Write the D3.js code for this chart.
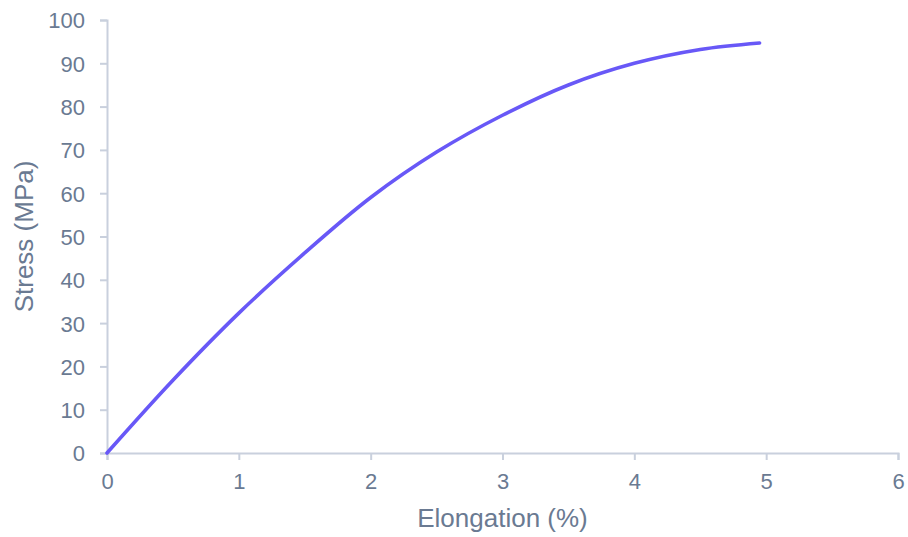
<!DOCTYPE html>
<html><head><meta charset="utf-8">
<script src="https://cdn.jsdelivr.net/npm/d3@7"></script>
<style>body{margin:0;background:#fff;font-family:"Liberation Sans",Arial,sans-serif;}</style>
</head><body>
<svg id="c" width="908" height="537"></svg>
<script>
const elongation = [0,0.5,1,1.5,2,2.5,3,3.5,4,4.5,4.95];
const stress     = [0,16.8,32.3,46.2,59.0,69.5,78.0,85.0,90.0,93.2,94.7];
const xTicks = [0,1,2,3,4,5,6];
const yTicks = [0,10,20,30,40,50,60,70,80,90,100];

const svg = d3.select("#c");
const m = {l:107, r:10, t:20, b:84};
const W = 908, H = 537;
const x = d3.scaleLinear().domain([0,6]).range([m.l, W-m.r]);
const y = d3.scaleLinear().domain([0,100]).range([H-m.b, m.t]);
const axisCol = "#c9d0dd", textCol = "#6a7a92";
const ff = "'Liberation Sans',Arial,sans-serif";

const gx = svg.append("g").attr("transform",`translate(0,${y(0)})`)
  .call(d3.axisBottom(x).tickValues(xTicks).tickFormat(d3.format("d")).tickSizeOuter(0).tickSize(7).tickPadding(13));
const gy = svg.append("g").attr("transform",`translate(${x(0)},0)`)
  .call(d3.axisLeft(y).tickValues(yTicks).tickFormat(d3.format("d")).tickSizeOuter(0).tickSize(7).tickPadding(15));
[gx,gy].forEach(g=>{
  g.select(".domain").attr("stroke",axisCol).attr("stroke-width",2);
  g.selectAll(".tick line").attr("stroke",axisCol).attr("stroke-width",2);
  g.selectAll(".tick text").attr("fill",textCol).style("font-size","22px").style("font-family",ff);
});
gy.selectAll(".tick text").attr("dy","0.36em");
gx.selectAll(".tick text").attr("dy","0.71em");

const data = elongation.map((e,i)=>[e,stress[i]]);
svg.append("path").datum(data)
  .attr("fill","none").attr("stroke","#6858f7").attr("stroke-width",3.6).attr("stroke-linecap","round")
  .attr("d", d3.line().x(d=>x(d[0])).y(d=>y(d[1])).curve(d3.curveCatmullRom.alpha(0.5)));

svg.append("text").attr("x",(x(0)+x(6))/2).attr("y",527).attr("text-anchor","middle")
  .attr("fill",textCol).style("font-size","26px").style("font-family",ff).text("Elongation (%)");
svg.append("text").attr("transform",`translate(33,${(y(0)+y(100))/2}) rotate(-90)`).attr("text-anchor","middle")
  .attr("fill",textCol).style("font-size","26px").style("font-family",ff).text("Stress (MPa)");
</script>
</body></html>
